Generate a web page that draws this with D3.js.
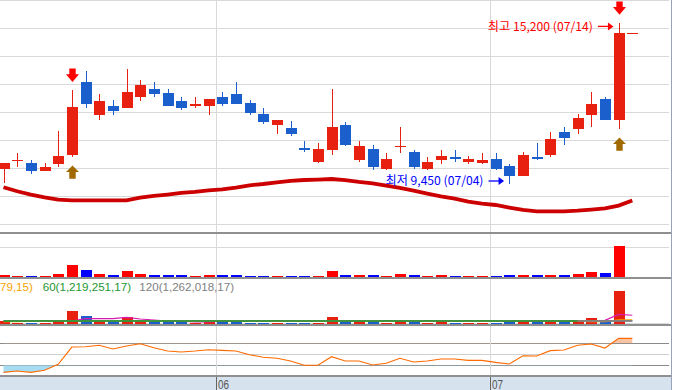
<!DOCTYPE html>
<html><head><meta charset="utf-8">
<script src="https://cdn.jsdelivr.net/npm/d3@7"></script>
<style>html,body{margin:0;padding:0;background:#fff;overflow:hidden}</style>
</head><body>
<svg id="c" width="673" height="390"></svg>
<script>
// ---------- data ----------
const dates = ["05/10","05/11","05/12","05/13","05/16","05/17","05/18","05/19","05/20","05/23","05/24","05/25","05/26","05/27","05/30","05/31",
  "06/02","06/03","06/07","06/08","06/09","06/10","06/13","06/14","06/15","06/16","06/17","06/20","06/21","06/22","06/23","06/24","06/27","06/28","06/29","06/30",
  "07/01","07/04","07/05","07/06","07/07","07/08","07/11","07/12","07/13","07/14","07/15"];
const open  = [10000,10300,10200,9900,10150,10500,13100,11900,12250,12150,12550,12850,12700,12400,12250,12250,12550,12650,12350,11950,11550,11450,10750,10250,10650,11550,10300,10700,10000,10800,10600,10000,10300,10400,10250,10200,10350,10100,9750,10400,10500,11300,11400,11900,12500,11750,14850];
const high  = [10200,10550,10300,10200,11350,12800,13500,12650,12450,13550,13150,13100,12850,12550,12550,12500,12750,13100,12450,12150,11750,11700,11000,10900,12850,11650,11000,10850,10550,11500,10650,10400,10650,10650,10450,10550,10550,10150,10600,10900,11300,11500,11950,12750,12550,15200,14850];
const low   = [9500,10050,9800,9900,10050,10400,12150,11750,11900,12150,12400,12550,12250,12100,12150,11900,12250,12300,11900,11600,11250,11150,10600,10200,10500,10800,10250,9950,9950,10550,10000,9950,10150,10250,10150,10150,9950,9450,9750,10300,10400,10850,11250,11500,11750,11400,14850];
const close = [10200,10300,9900,10050,10450,12200,12300,12400,12050,12750,13000,12650,12250,12150,12300,12500,12300,12300,12000,11650,11750,11250,10650,10700,11500,10850,10800,10050,10350,10800,10050,10250,10450,10400,10350,10300,10000,9750,10500,10400,11050,11100,11800,12300,11750,14850,14850];
const priceMA = [9333,9190,9072,8975,8893,8868,8868,8868,8868,8868,8965,9022,9072,9130,9165,9225,9261,9322,9404,9450,9511,9558,9593,9608,9629,
  9590,9522,9475,9393,9308,9215,9108,9011,8929,8822,8750,8700,8607,8522,8475,8475,8475,8500,8536,8580,8680,8860];
const volume = [1050000,480000,460000,420000,1580000,5800000,3300000,1560000,1090000,2850000,1540000,1100000,1070000,1080000,470000,950000,
  1060000,1090000,480000,470000,460000,450000,430000,490000,2830000,1080000,1060000,1070000,470000,1560000,1090000,480000,1050000,450000,460000,440000,
  470000,1100000,1080000,1060000,1070000,1090000,1570000,2500000,1750000,14700000,0];
const volMA5 = [1200000,1200000,1200000,1200000,1200000,1220000,2250000,2250000,2250000,2880000,2120000,1670000,1200000,1200000,800000,800000,
  1200000,1200000,1200000,1200000,1200000,1200000,1200000,1200000,1200000,1200000,1200000,1200000,1200000,1200000,1200000,1200000,1200000,1200000,1200000,1200000,
  1200000,1200000,1200000,1200000,1200000,1200000,1200000,1100000,1500000,4200000,3800000];
const volMA20 = [950000,950000,1150000,1200000,1200000,1200000,1200000,1200000,1200000,1200000,1200000,1200000,1200000,1200000,1200000,1200000,
  1200000,1200000,1200000,1200000,1200000,1200000,1200000,1200000,1200000,1200000,1200000,1200000,1200000,1200000,1200000,1200000,1200000,1200000,1200000,1200000,
  1200000,1200000,1200000,1200000,1200000,1200000,1200000,950000,950000,1668379,1668379];
const volMA60 = [1195000,1196000,1197000,1199000,1200000,1203000,1206000,1208000,1209000,1211000,1212000,1212000,1213000,1213000,1212000,1212000,
  1212000,1211000,1211000,1210000,1210000,1209000,1209000,1208000,1210000,1210000,1211000,1211000,1210000,1211000,1211000,1210000,1210000,1209000,1209000,1208000,
  1208000,1208000,1208000,1208000,1208000,1208000,1209000,1210000,1210000,1219251,1219251];
const volMA120 = [1262018,1262018,1262018,1262018,1262018,1262018,1262018,1262018,1262018,1262018,1262018,1262018,1262018,1262018,1262018,1262018,
  1262018,1262018,1262018,1262018,1262018,1262018,1262018,1262018,1262018,1262018,1262018,1262018,1262018,1262018,1262018,1262018,1262018,1262018,1262018,1262018,
  1262018,1262018,1262018,1262018,1262018,1262018,1262018,1262018,1262018,1262018,1262018];
const oscillator = [83.6,84.8,83.6,85.5,90.9,106.6,106.9,108.2,104.8,107.5,109.6,106.0,103.0,102.1,103.0,104.2,103.6,103.0,99.6,97.3,96.4,93.9,90.0,90.0,97.8,
  93.9,93.9,90.3,91.8,96.4,93.0,93.9,95.7,95.7,94.5,94.5,92.7,91.2,98.7,98.5,103.3,103.9,108.2,109.4,105.7,114.5,114.5];
const priceTicks = [8000,9000,10000,11000,12000,13000,14000,15000,16000];
const volumeTicks = [14000000];
const oscLevels = [110,100,90];
const monthStarts = ["06/02","07/01"];
const monthLabels = ["06","07"];
const signalDown = ["05/17","07/14"];
const signalUp = ["05/17","07/14"];
const highDate = "07/14", highValue = 15200, highText = "최고 15,200 (07/14)";
const lowDate = "07/04", lowValue = 9450, lowText = "최저 9,450 (07/04)";
const legendTexts = ["79,15)", "60(1,219,251,17)", "120(1,262,018,17)"];

// ---------- colours ----------
const UP = "#e8200f", DOWN = "#1a5fcc";
const GRID = "#d9d9d9", BORDER = "#8f8f8f";

// ---------- scales ----------
const x = d3.scalePoint().domain(dates).range([3.5, 632.3]);
const yP = d3.scaleLinear().domain([8000, 16000]).range([224.6, 0.6]);
const yV1 = d3.scaleLinear().domain([0, 20200000]).range([277, 234]);
const yV2 = d3.scaleLinear().domain([0, 20450000]).range([323.7, 278.3]);
const yO = d3.scaleLinear().domain([90, 110]).range([365.3, 343.3]);

const svg = d3.select("#c");
const N = dates.length;
const isUp = i => close[i] > open[i] || (close[i] === open[i] && (i === 0 || close[i] >= close[i-1]));
const idx = d3.range(N);

// ---------- backgrounds / grids ----------
svg.append("rect").attr("x",0).attr("y",376).attr("width",671).attr("height",14).attr("fill","#d7e2ef");

const g = svg.append("g").attr("shape-rendering","crispEdges");
g.selectAll(".pg").data(priceTicks).join("line")
  .attr("x1",0).attr("x2",669).attr("y1",d=>yP(d)).attr("y2",d=>yP(d))
  .attr("stroke",GRID).attr("stroke-width",1);
g.selectAll(".vg").data(volumeTicks).join("line")
  .attr("x1",0).attr("x2",669).attr("y1",d=>yV1(d)).attr("y2",d=>yV1(d))
  .attr("stroke",GRID);
g.append("line").attr("x1",0).attr("x2",669).attr("y1",yV1(0)).attr("y2",yV1(0)).attr("stroke",GRID);
g.append("line").attr("x1",0).attr("x2",669).attr("y1",yV2(0)).attr("y2",yV2(0)).attr("stroke",GRID);
g.selectAll(".ol").data(oscLevels).join("line")
  .attr("x1",0).attr("x2",669).attr("y1",d=>yO(d)).attr("y2",d=>yO(d))
  .attr("stroke",d=>d===100?"#cfcfcf":"#8a8a8a").attr("stroke-width",d=>d===100?1:1.5);
// month grid
g.selectAll(".mg").data(monthStarts).join("line")
  .attr("x1",d=>Math.round(x(d)-6)+0.5).attr("x2",d=>Math.round(x(d)-6)+0.5)
  .attr("y1",0).attr("y2",376).attr("stroke",GRID);
g.selectAll(".mt").data(monthStarts).join("line")
  .attr("x1",d=>Math.round(x(d)-6)+0.5).attr("x2",d=>Math.round(x(d)-6)+0.5)
  .attr("y1",376).attr("y2",390).attr("stroke","#666");
// panel borders
[233.3, 278.3, 325.3, 375.5].forEach(y=>{
  g.append("line").attr("x1",0).attr("x2",671).attr("y1",y).attr("y2",y).attr("stroke",BORDER).attr("stroke-width",2);
});
svg.append("line").attr("x1",671.5).attr("x2",671.5).attr("y1",0).attr("y2",390).attr("stroke","#9aa3b5").attr("stroke-width",1);

// ---------- price MA ----------
svg.append("path").datum(idx)
  .attr("d", d3.line().x(i=>x(dates[i])).y(i=>yP(priceMA[i])))
  .attr("fill","none").attr("stroke","#cc0000").attr("stroke-width",3.8);

// ---------- candles ----------
const cg = svg.append("g").attr("shape-rendering","crispEdges");
cg.selectAll(".wick").data(idx).join("line")
  .attr("x1",i=>Math.round(x(dates[i]))+0.5).attr("x2",i=>Math.round(x(dates[i]))+0.5)
  .attr("y1",i=>yP(high[i])).attr("y2",i=>yP(low[i]))
  .attr("stroke",i=>isUp(i)?UP:DOWN).attr("stroke-width",1);
cg.selectAll(".body").data(idx).join("rect")
  .attr("x",i=>Math.round(x(dates[i]))-5)
  .attr("width",11)
  .attr("y",i=>yP(Math.max(open[i],close[i])))
  .attr("height",i=>Math.max(1.2, Math.abs(yP(open[i])-yP(close[i]))))
  .attr("fill",i=>isUp(i)?UP:DOWN);

// ---------- signal arrows ----------
const ag = svg.append("g");
ag.selectAll(".dn").data(signalDown).join("path")
  .attr("d", d=>{ const cx=Math.round(x(d))+0.5, t=yP(high[dates.indexOf(d)])-8.3;
     return `M${cx-3.2},${t-13.3}H${cx+3.2}V${t-7.7}H${cx+6.5}L${cx},${t}L${cx-6.5},${t-7.7}H${cx-3.2}Z`; })
  .attr("fill","#ff0000");
ag.selectAll(".up").data(signalUp).join("path")
  .attr("d", d=>{ const cx=Math.round(x(d))+0.5, t=yP(low[dates.indexOf(d)])+8;
     return `M${cx-3.2},${t+13.3}H${cx+3.2}V${t+6.5}H${cx+6.5}L${cx},${t}L${cx-6.5},${t+6.5}H${cx-3.2}Z`; })
  .attr("fill","#a06a00");

// ---------- high / low notes ----------
function note(date, value, text, color, dy, tlen){
  const tip = x(date) - 5.2, y = yP(value) + dy;
  svg.append("line").attr("x1",tip-15.5).attr("x2",tip-4).attr("y1",y).attr("y2",y).attr("stroke",color).attr("stroke-width",1.3);
  svg.append("path").attr("d",`M${tip-5.5},${y-4}L${tip},${y}L${tip-5.5},${y+4}Z`).attr("fill",color);
  svg.append("text").attr("x",tip-20.6).attr("y",y+4.3).attr("text-anchor","end")
    .attr("font-family","'Noto Sans CJK KR', sans-serif").attr("font-size",12)
    .attr("textLength",tlen).attr("lengthAdjust","spacingAndGlyphs")
    .attr("fill",color).text(text);
}
note(highDate, highValue, highText, "#ff0000", 3.4, 105);
note(lowDate, lowValue, lowText, "#0000ff", -3, 98);

// ---------- volume panel 1 ----------
svg.append("g").attr("shape-rendering","crispEdges")
  .selectAll("rect").data(idx.filter(i=>volume[i]>0)).join("rect")
  .attr("x",i=>Math.round(x(dates[i]))-5).attr("width",11)
  .attr("y",i=>yV1(volume[i])).attr("height",i=>yV1(0)-yV1(volume[i]))
  .attr("fill",i=>isUp(i)?"#ff0000":"#0000ff");

// ---------- volume panel 2 ----------
svg.append("g").attr("shape-rendering","crispEdges")
  .selectAll("rect").data(idx.filter(i=>volume[i]>0)).join("rect")
  .attr("x",i=>Math.round(x(dates[i]))-5).attr("width",11)
  .attr("y",i=>yV2(volume[i])).attr("height",i=>yV2(0)-yV2(volume[i]))
  .attr("fill",i=>isUp(i)?UP:DOWN);
const vline = arr => d3.line().x(i=>x(dates[i])).y(i=>yV2(arr[i]));
svg.append("path").datum(idx).attr("d",vline(volMA5)).attr("fill","none").attr("stroke","#d81bb0").attr("stroke-width",1.2);
svg.append("path").datum(idx).attr("d",vline(volMA20)).attr("fill","none").attr("stroke","#f5a300").attr("stroke-width",1.4);
svg.append("path").datum(idx).attr("d",vline(volMA120)).attr("fill","none").attr("stroke","#808080").attr("stroke-width",1.2);
svg.append("path").datum(idx.filter(i=>i<=42)).attr("d",vline(volMA60)).attr("fill","none").attr("stroke","#1e9632").attr("stroke-width",1.4);
svg.append("path").datum(idx.filter(i=>i>=42)).attr("d",vline(volMA120)).attr("fill","none").attr("stroke","#808080").attr("stroke-width",1.2);
svg.append("path").datum(idx.filter(i=>i>=42)).attr("d",vline(volMA60)).attr("fill","none").attr("stroke","#808080").attr("stroke-width",1);
// legend
const legColors = ["#f5a300","#1e9632","#808080"];
const legX = [0, 42.7, 139.3];
legendTexts.forEach((t,k)=>{
  svg.append("text").attr("x",legX[k]).attr("y",291).attr("text-anchor","start")
    .attr("font-family","'Liberation Sans', Arial, sans-serif").attr("font-size",11.6)
    .attr("fill",legColors[k]).text(t);
});

// ---------- oscillator ----------
const defs = svg.append("defs");
defs.append("clipPath").attr("id","below").append("rect").attr("x",0).attr("y",yO(90)).attr("width",671).attr("height",376-yO(90));
defs.append("clipPath").attr("id","above").append("rect").attr("x",0).attr("y",326).attr("width",671).attr("height",yO(110)-326);
svg.append("path").datum(idx).attr("clip-path","url(#below)")
  .attr("d", d3.area().x(i=>x(dates[i])).y0(yO(90)).y1(i=>yO(oscillator[i])))
  .attr("fill","#a6dcf2");
svg.append("path").datum(idx).attr("clip-path","url(#above)")
  .attr("d", d3.area().x(i=>x(dates[i])).y0(yO(110)).y1(i=>yO(oscillator[i])))
  .attr("fill","#f7c3a0");
svg.append("path").datum(idx)
  .attr("d", d3.line().x(i=>x(dates[i])).y(i=>yO(oscillator[i])))
  .attr("fill","none").attr("stroke","#ff6a00").attr("stroke-width",1.1);

// ---------- month labels ----------
svg.selectAll(".ml").data(monthStarts).join("text")
  .attr("x",d=>Math.round(x(d)-6)+2).attr("y",388.5)
  .attr("font-family","'Liberation Sans', Arial, sans-serif").attr("font-size",13.5)
  .attr("textLength",11).attr("lengthAdjust","spacingAndGlyphs")
  .attr("fill","#555").text((d,k)=>monthLabels[k]);
</script>
</body></html>
